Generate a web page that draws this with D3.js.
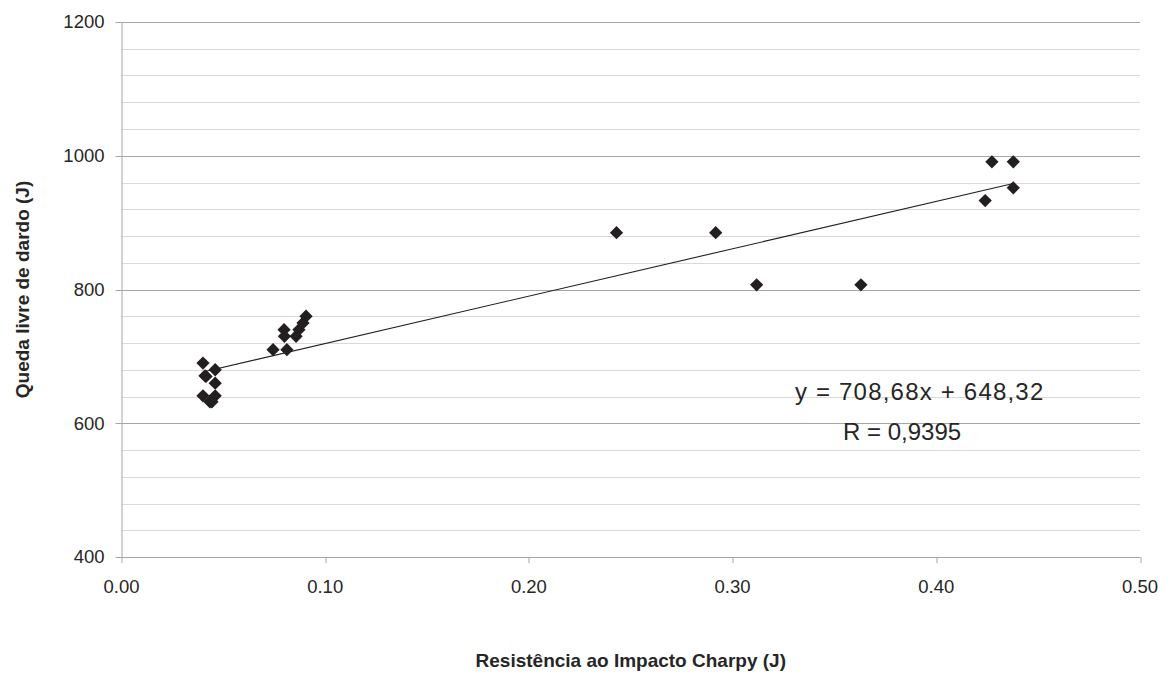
<!DOCTYPE html>
<html>
<head>
<meta charset="utf-8">
<script src="https://cdn.jsdelivr.net/npm/d3@7"></script>
<style>
body { margin: 0; background: #fff; }
svg text { font-family: "Liberation Sans", Arial, sans-serif; }
</style>
</head>
<body>
<script>
// charpy impact (J) vs dart drop (J)
var charpy = [0.040, 0.0415, 0.046, 0.041, 0.046, 0.040, 0.046, 0.0434, 0.0444,
	0.0744, 0.0798, 0.0800, 0.0812, 0.0857, 0.0871, 0.0891, 0.0906,
	0.243, 0.2917, 0.3118, 0.363, 0.4273, 0.4378, 0.4378, 0.424];
var dardo = [690, 670, 680, 671, 660, 641, 641, 632, 632,
	710, 740, 730, 710, 730, 740, 750, 760,
	885, 885, 807, 807, 991, 991, 952, 933];
var xTicks = [0, 0.1, 0.2, 0.3, 0.4, 0.5];
var yTicks = [400, 600, 800, 1000, 1200];
var slope = 708.68, intercept = 648.32;
var eqLabel = "y = 708,68x + 648,32";
var rLabel = "R = 0,9395";

var margin = {top: 22, left: 121.5, right: 36, bottom: 122},
	W = 1176, H = 679,
	width = W - margin.left - margin.right,
	height = H - margin.top - margin.bottom;

var svg = d3.select("body").append("svg")
	.attr("width", W)
	.attr("height", H);

var g = svg.append("g")
	.attr("transform", "translate(" + margin.left + "," + margin.top + ")");

var x = d3.scaleLinear().domain([0, 0.5]).range([0, width]);
var y = d3.scaleLinear().domain([400, 1200]).range([height, 0]);

// gridlines, minor every 40 and major every 200
var minor = d3.range(440, 1200, 40).filter(function(v){ return v % 200 != 0; });
g.selectAll(".minor").data(minor).enter().append("line")
	.attr("x1", 0).attr("x2", width)
	.attr("y1", function(d){ return Math.round(y(d)) + 0.5; })
	.attr("y2", function(d){ return Math.round(y(d)) + 0.5; })
	.style("stroke", "#d9d9d9");
g.selectAll(".major").data(yTicks).enter().append("line")
	.attr("x1", -6).attr("x2", width)
	.attr("y1", function(d){ return Math.round(y(d)) + 0.5; })
	.attr("y2", function(d){ return Math.round(y(d)) + 0.5; })
	.style("stroke", "#a6a6a6");

// y axis line
g.append("line")
	.attr("x1", 0.5).attr("x2", 0.5)
	.attr("y1", 0).attr("y2", height)
	.style("stroke", "#a6a6a6");

// x tick marks
g.selectAll(".xtick").data(xTicks).enter().append("line")
	.attr("x1", function(d){ return Math.round(x(d)) + 0.5; })
	.attr("x2", function(d){ return Math.round(x(d)) + 0.5; })
	.attr("y1", height).attr("y2", height + 6)
	.style("stroke", "#a6a6a6");

g.selectAll(".ylab").data(yTicks).enter().append("text")
	.attr("x", -17)
	.attr("y", function(d){ return y(d); })
	.attr("dy", "0.35em")
	.attr("text-anchor", "end")
	.style("font-size", "18.5px")
	.style("fill", "#262626")
	.text(function(d){ return d; });

g.selectAll(".xlab").data(xTicks).enter().append("text")
	.attr("x", function(d){ return x(d); })
	.attr("y", height + 30)
	.attr("dy", "0.35em")
	.attr("text-anchor", "middle")
	.style("font-size", "18.5px")
	.style("fill", "#262626")
	.text(function(d){ return d3.format(".2f")(d); });

// trendline
var xmin = d3.min(charpy), xmax = d3.max(charpy);
g.append("line")
	.attr("x1", x(xmin)).attr("y1", y(slope * xmin + intercept))
	.attr("x2", x(xmax)).attr("y2", y(slope * xmax + intercept))
	.style("stroke", "#231f20")
	.style("stroke-width", 1.1);

var diamond = d3.symbol().type(d3.symbolSquare).size(88);
g.selectAll(".pt").data(charpy).enter().append("path")
	.attr("d", diamond)
	.attr("transform", function(d, i){ return "translate(" + x(d) + "," + y(dardo[i]) + ") rotate(45)"; })
	.style("fill", "#231f20");

g.append("text")
	.attr("x", x(0.3306))
	.attr("y", y(647))
	.attr("dy", "0.35em")
	.style("font-size", "24px")
	.style("letter-spacing", "1.2px")
	.style("fill", "#262626")
	.text(eqLabel);
g.append("text")
	.attr("x", x(0.3542))
	.attr("y", y(588))
	.attr("dy", "0.35em")
	.style("font-size", "24px")
	.style("fill", "#262626")
	.text(rLabel);

// axis titles
svg.append("text")
	.attr("transform", "translate(22," + (margin.top + height / 2) + ") rotate(-90)")
	.attr("text-anchor", "middle")
	.attr("dy", "0.35em")
	.style("font-family", "'Liberation Sans Narrow', 'Arial Narrow', sans-serif")
	.style("font-weight", "bold")
	.style("font-size", "19px")
	.style("fill", "#262626")
	.text("Queda livre de dardo (J)");
svg.append("text")
	.attr("x", margin.left + width / 2)
	.attr("y", 660)
	.attr("text-anchor", "middle")
	.attr("dy", "0.35em")
	.style("font-family", "'Liberation Sans Narrow', 'Arial Narrow', sans-serif")
	.style("font-weight", "bold")
	.style("font-size", "19px")
	.style("fill", "#262626")
	.text("Resistência ao Impacto Charpy (J)");
</script>
</body>
</html>
